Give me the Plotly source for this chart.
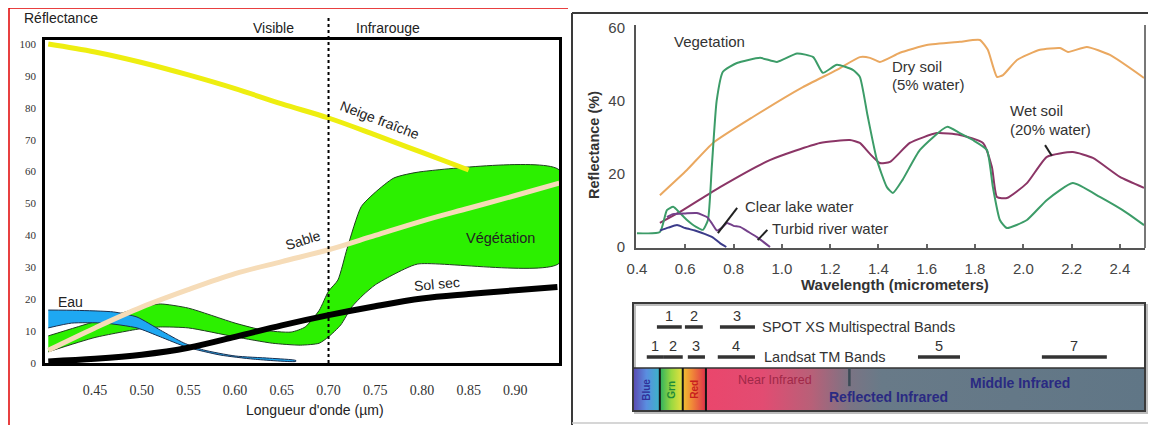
import plotly.graph_objects as go

# The page body adds an 8px margin; the figure is sized so that the
# reference pixel grid (1156x425) lines up with the photographed window.
OFF = 8
W, H = 1156 - OFF, 425 - OFF
SANS = "Liberation Sans, Arial, sans-serif"
SERIF = "Liberation Serif, Times New Roman, serif"


def px(x):
    return (x - OFF) / W


def py(y):
    return 1 - (y - OFF) / H


# ---------------- Left chart data (French) ----------------
neige_x = [0.40, 0.45, 0.50, 0.55, 0.60, 0.65, 0.70, 0.75, 0.80, 0.85]
neige_y = [100, 97.5, 94.2, 90.3, 86.0, 81.2, 76.8, 71.5, 66.0, 60.5]

sable_x = [0.40, 0.45, 0.50, 0.55, 0.60, 0.65, 0.70, 0.75, 0.80, 0.85, 0.90, 0.947]
sable_y = [4.0, 11.0, 17.5, 23.0, 28.0, 31.8, 35.5, 40.0, 44.5, 48.5, 52.5, 56.4]

solsec_x = [0.40, 0.45, 0.50, 0.55, 0.60, 0.65, 0.70, 0.75, 0.80, 0.85, 0.90, 0.945]
solsec_y = [0.5, 1.3, 2.6, 4.8, 8.2, 11.8, 15.0, 17.8, 20.2, 21.6, 22.8, 23.8]

veg_up_x = [0.40, 0.45, 0.50, 0.52, 0.55, 0.60, 0.63, 0.66, 0.675, 0.69, 0.70, 0.71,
            0.72, 0.735, 0.75, 0.77, 0.80, 0.947]
veg_up_y = [8.5, 13.0, 17.5, 18.5, 17.2, 12.5, 10.3, 9.7, 11.3, 16.5, 22.5, 26.0,
            36.0, 49.0, 53.5, 58.0, 60.0, 60.5]
veg_lo_x = [0.40, 0.45, 0.50, 0.52, 0.55, 0.60, 0.64, 0.67, 0.69, 0.70, 0.713, 0.725,
            0.737, 0.75, 0.77, 0.795, 0.947]
veg_lo_y = [3.5, 8.0, 10.8, 11.3, 11.0, 8.2, 6.2, 5.6, 6.2, 8.2, 11.9, 17.6,
            21.3, 24.5, 27.8, 31.0, 31.3]

eau_up_x = [0.40, 0.43, 0.47, 0.495, 0.52, 0.545, 0.566, 0.60, 0.637, 0.665]
eau_up_y = [16.6, 16.5, 16.0, 14.4, 10.3, 6.3, 4.1, 2.2, 1.5, 0.8]
eau_lo_x = [0.40, 0.425, 0.46, 0.495, 0.52, 0.548, 0.584, 0.62, 0.665]
eau_lo_y = [11.0, 12.5, 12.5, 11.0, 8.2, 5.0, 2.5, 1.2, 0.5]

left_xticks = [0.45, 0.50, 0.55, 0.60, 0.65, 0.70, 0.75, 0.80, 0.85, 0.90]
left_yticks = [0, 10, 20, 30, 40, 50, 60, 70, 80, 90, 100]

# ---------------- Right chart data (English) ----------------
veg_x = [0.40, 0.495, 0.524, 0.55, 0.578, 0.607, 0.645, 0.673, 0.694, 0.71, 0.73, 0.756,
         0.814, 0.91, 0.98, 1.063, 1.13, 1.17, 1.228, 1.294, 1.323, 1.355, 1.394, 1.435,
         1.46, 1.50, 1.572, 1.684, 1.737, 1.791, 1.849, 1.874, 1.903, 1.932, 2.015, 2.098,
         2.205, 2.317, 2.43, 2.5]
veg_y = [3.8, 4.1, 10.1, 11.0, 9.3, 7.4, 5.5, 4.7, 7.4, 22.0, 40.0, 48.0,
         50.4, 51.8, 50.7, 53.0, 52.0, 47.7, 49.9, 48.5, 46.6, 36.0, 23.8, 16.4,
         14.8, 18.4, 26.6, 32.9, 31.2, 29.3, 26.6, 16.4, 7.4, 5.2, 7.4, 12.9,
         17.5, 13.7, 9.3, 6.0]

dry_x = [0.495, 0.607, 0.715, 0.88, 1.087, 1.228, 1.323, 1.365, 1.406, 1.489, 1.60, 1.737,
         1.82, 1.853, 1.891, 1.916, 1.974, 2.069, 2.152, 2.185, 2.263, 2.359, 2.5]
dry_y = [14.2, 21.1, 28.5, 35.6, 43.8, 48.5, 52.0, 51.8, 50.7, 53.2, 55.3, 56.2,
         56.7, 54.0, 46.6, 47.1, 51.2, 54.0, 54.5, 53.4, 54.8, 52.6, 46.3]

wet_x = [0.495, 0.578, 0.744, 0.95, 1.158, 1.282, 1.323, 1.365, 1.406, 1.448, 1.53, 1.642,
         1.737, 1.833, 1.87, 1.891, 1.932, 2.015, 2.098, 2.205, 2.288, 2.40, 2.5]
wet_y = [6.6, 9.6, 16.4, 23.8, 28.5, 29.3, 28.5, 25.5, 23.0, 23.3, 28.5, 31.2,
         30.7, 28.5, 21.9, 13.7, 13.4, 17.5, 24.7, 26.0, 24.4, 19.2, 16.2]

clear_x = [0.495, 0.53, 0.566, 0.60, 0.64, 0.68, 0.715, 0.745, 0.77]
clear_y = [4.5, 5.3, 6.0, 5.2, 4.5, 3.6, 2.6, 1.0, 0.0]

turbid_x = [0.524, 0.549, 0.60, 0.648, 0.69, 0.71, 0.731, 0.75, 0.773, 0.80, 0.827, 0.86,
            0.897, 0.951]
turbid_y = [8.2, 9.0, 9.2, 9.3, 8.2, 6.5, 4.5, 5.2, 6.6, 5.8, 5.5, 4.2, 2.7, 0.0]

right_xticks = [0.4, 0.6, 0.8, 1.0, 1.2, 1.4, 1.6, 1.8, 2.0, 2.2, 2.4]
right_yticks = [0, 20, 40, 60]

# ---------------- Band diagram data ----------------
spot_bands = [("1", 0.483, 0.586), ("2", 0.599, 0.673), ("3", 0.744, 0.889)]
landsat_bands = [("1", 0.441, 0.512), ("2", 0.512, 0.590), ("3", 0.611, 0.682),
                 ("4", 0.735, 0.889), ("5", 1.564, 1.738), ("7", 2.077, 2.346)]
region_names = ["Blue", "Grn", "Red", "IR"]
region_edges = [0.384, 0.495, 0.590, 0.686, 2.504]

fig = go.Figure()

# ---- Left chart traces
fig.add_trace(go.Scatter(
    x=veg_up_x + veg_lo_x[::-1], y=veg_up_y + veg_lo_y[::-1],
    fill="toself", fillcolor="#2cf000", mode="lines",
    line=dict(color="#1e3e1e", width=1, shape="spline", smoothing=0.6),
    xaxis="x", yaxis="y", hoverinfo="skip"))
fig.add_trace(go.Scatter(
    x=eau_up_x + eau_lo_x[::-1], y=eau_up_y + eau_lo_y[::-1],
    fill="toself", fillcolor="#1ea8f2", mode="lines",
    line=dict(color="#1a3050", width=1, shape="spline", smoothing=0.6),
    xaxis="x", yaxis="y", hoverinfo="skip"))
fig.add_trace(go.Scatter(
    x=sable_x, y=sable_y, mode="lines",
    line=dict(color="#f6dcb8", width=5, shape="spline"),
    xaxis="x", yaxis="y", hoverinfo="skip"))
fig.add_trace(go.Scatter(
    x=solsec_x, y=solsec_y, mode="lines",
    line=dict(color="#000000", width=6, shape="spline"),
    xaxis="x", yaxis="y", hoverinfo="skip"))
fig.add_trace(go.Scatter(
    x=neige_x, y=neige_y, mode="lines",
    line=dict(color="#eeee10", width=5, shape="spline"),
    xaxis="x", yaxis="y", hoverinfo="skip"))

# ---- Right chart traces
right_series = [
    (dry_x, dry_y, "#eaa860"),
    (wet_x, wet_y, "#8b3566"),
    (veg_x, veg_y, "#3c9c68"),
    (clear_x, clear_y, "#3b3b8a"),
    (turbid_x, turbid_y, "#74408a"),
]
for xs, ys, col in right_series:
    fig.add_trace(go.Scatter(
        x=xs, y=ys, mode="lines",
        line=dict(color=col, width=2, shape="spline", smoothing=0.5),
        xaxis="x2", yaxis="y2", hoverinfo="skip"))

# pointer lines (right chart)
pointers = [((0.735, 3.8), (0.815, 10.7)), ((0.90, 1.9), (0.94, 4.7)),
            ((2.09, 27.9), (2.118, 25.0))]
for (x0, y0), (x1, y1) in pointers:
    fig.add_trace(go.Scatter(
        x=[x0, x1], y=[y0, y1], mode="lines",
        line=dict(color="#222222", width=2),
        xaxis="x2", yaxis="y2", hoverinfo="skip"))

# ---- Band diagram: colored spectrum bar
BAR_TOP = 0.398
gradients = [
    [[0, "#5a48b0"], [0.5, "#5a8ee0"], [1, "#3cb4c8"]],
    [[0, "#2cb060"], [0.5, "#9ad840"], [1, "#e8e040"]],
    [[0, "#f0c030"], [0.4, "#f08838"], [1, "#e0304a"]],
    [[0, "#ea466c"], [0.13, "#e24c72"], [0.24, "#b86078"], [0.33, "#7a7484"],
     [0.40, "#687a88"], [1, "#607686"]],
]
for i in range(4):
    x0, x1 = region_edges[i], region_edges[i + 1]
    fig.add_trace(go.Scatter(
        x=[x0, x1, x1, x0, x0], y=[0, 0, BAR_TOP, BAR_TOP, 0],
        fill="toself", mode="lines", line=dict(width=0),
        fillgradient=dict(type="horizontal", colorscale=gradients[i]),
        xaxis="x3", yaxis="y3", hoverinfo="skip"))

# band segments
for rows, yv in ((spot_bands, 0.778), (landsat_bands, 0.50)):
    for lab, a, b in rows:
        fig.add_trace(go.Scatter(
            x=[a, b], y=[yv, yv], mode="lines",
            line=dict(color="#333333", width=3.5),
            xaxis="x3", yaxis="y3", hoverinfo="skip"))

shapes = []
# left panel red frame (top + left)
shapes.append(dict(type="line", xref="paper", yref="paper", x0=px(9), x1=px(568),
                   y0=py(8), y1=py(8), line=dict(color="#e00000", width=1.5)))
shapes.append(dict(type="line", xref="paper", yref="paper", x0=px(9), x1=px(9),
                   y0=py(8), y1=py(425), line=dict(color="#e00000", width=1.5)))
# right panel frame
shapes.append(dict(type="line", xref="paper", yref="paper", x0=px(572), x1=px(1156),
                   y0=py(13), y1=py(13), line=dict(color="#3a3a3a", width=2)))
shapes.append(dict(type="line", xref="paper", yref="paper", x0=px(572), x1=px(572),
                   y0=py(13), y1=py(425), line=dict(color="#3a3a3a", width=2)))
shapes.append(dict(type="line", xref="paper", yref="paper", x0=px(572), x1=px(1156),
                   y0=py(423), y1=py(423), line=dict(color="#c8c8c8", width=1.5)))
# dotted visible/infrared divider
shapes.append(dict(type="line", xref="x", yref="paper", x0=0.70, x1=0.70,
                   y0=py(363), y1=py(15), line=dict(color="black", width=2, dash="dot")))
# right chart right-hand axis line
shapes.append(dict(type="line", xref="paper", yref="paper", x0=px(1145), x1=px(1145),
                   y0=py(25), y1=py(248), line=dict(color="#777777", width=2)))
# band diagram box
shapes.append(dict(type="rect", xref="paper", yref="paper", x0=px(635), x1=px(1147),
                   y0=py(413), y1=py(305), line=dict(color="#bdbdbd", width=2), layer="below"))
shapes.append(dict(type="rect", xref="paper", yref="paper", x0=px(633), x1=px(1145),
                   y0=py(411), y1=py(303), line=dict(color="#3a3a3a", width=2), layer="above"))
# bar top edge and region separators
shapes.append(dict(type="line", xref="x3", yref="y3", x0=region_edges[0], x1=region_edges[-1],
                   y0=BAR_TOP, y1=BAR_TOP, line=dict(color="#333333", width=1.5)))
for e in region_edges[1:4]:
    shapes.append(dict(type="line", xref="x3", yref="y3", x0=e, x1=e, y0=0, y1=BAR_TOP,
                       line=dict(color="#151515", width=2)))
shapes.append(dict(type="line", xref="x3", yref="y3", x0=1.28, x1=1.28, y0=0.23, y1=BAR_TOP,
                   line=dict(color="#3a4a55", width=2.5)))

ann = []


def A(text, x, y, xref="paper", yref="paper", size=13, color="#222222", family=SANS,
      angle=0, xanchor="center", yanchor="middle", bold=False):
    if bold:
        text = "<b>" + text + "</b>"
    ann.append(dict(text=text, x=x, y=y, xref=xref, yref=yref, showarrow=False,
                    font=dict(size=size, color=color, family=family), textangle=angle,
                    xanchor=xanchor, yanchor=yanchor))


# left chart texts
A("Réflectance", px(61), py(18), size=14)
A("Visible", px(273), py(28), size=14)
A("Infrarouge", px(388), py(28), size=14)
A("Longueur d'onde (µm)", px(315), py(410), size=14)
A("Neige fraîche", 0.755, 76.2, "x", "y", size=14, angle=21)
A("Sable", 0.673, 38.6, "x", "y", size=14, angle=-17)
A("Végétation", 0.884, 39.2, "x", "y", size=14.5)
A("Sol sec", 0.816, 24.8, "x", "y", size=14, angle=-5)
A("Eau", 0.424, 19.1, "x", "y", size=14)

# right chart texts
RC = "#333333"
A("Vegetation", 0.545, 56.2, "x2", "y2", size=15, color=RC, xanchor="left")
A("Dry soil", 1.448, 49.3, "x2", "y2", size=15, color=RC, xanchor="left")
A("(5% water)", 1.448, 44.4, "x2", "y2", size=15, color=RC, xanchor="left")
A("Wet soil", 1.936, 37.3, "x2", "y2", size=15, color=RC, xanchor="left")
A("(20% water)", 1.936, 32.3, "x2", "y2", size=15, color=RC, xanchor="left")
A("Clear lake water", 0.839, 11.0, "x2", "y2", size=15, color=RC, xanchor="left")
A("Turbid river water", 0.951, 5.2, "x2", "y2", size=15, color=RC, xanchor="left")
A("Reflectance (%)", px(594), py(145), size=14.5, color=RC, angle=-90, bold=True)
A("Wavelength (micrometers)", px(895), py(284), size=15, color=RC, bold=True)

# band diagram texts
for lab, a, b in spot_bands:
    A(lab, (a + b) / 2, 0.88, "x3", "y3", size=14.5, color=RC)
for lab, a, b in landsat_bands:
    A(lab, (a + b) / 2, 0.60, "x3", "y3", size=14.5, color=RC)
A("SPOT XS Multispectral Bands", 0.909, 0.778, "x3", "y3", size=14.5, color=RC, xanchor="left")
A("Landsat TM Bands", 0.918, 0.50, "x3", "y3", size=14.5, color=RC, xanchor="left")
name_cols = ["#30309a", "#1f8a3a", "#c81e1e"]
for i in range(3):
    A(region_names[i], (region_edges[i] + region_edges[i + 1]) / 2, 0.2, "x3", "y3",
      size=10, color=name_cols[i], angle=-90, bold=True)
A("Near Infrared", 0.971, 0.29, "x3", "y3", size=12.5, color="#a02848")
A("Reflected Infrared", 1.44, 0.13, "x3", "y3", size=14, color="#2a2a82", bold=True)
A("Middle Infrared", 1.986, 0.26, "x3", "y3", size=14, color="#2a2a82", bold=True)

fig.update_layout(
    width=W, height=H, margin=dict(l=0, r=0, t=0, b=0, pad=0, autoexpand=False),
    paper_bgcolor="white", plot_bgcolor="rgba(0,0,0,0)", showlegend=False,
    shapes=shapes, annotations=ann,
    xaxis=dict(domain=[px(45), px(559)], range=[0.3965, 0.9467], anchor="y",
               tickvals=left_xticks, ticktext=[f"{v:.2f}" for v in left_xticks],
               tickfont=dict(family=SERIF, size=14, color="#333333"),
               showline=True, linecolor="black", linewidth=2.5, mirror=True,
               ticks="", showgrid=False, zeroline=False, ticklabelstandoff=12,
               automargin=False),
    yaxis=dict(domain=[py(363), py(40)], range=[0, 101.25], anchor="x",
               tickvals=left_yticks, ticktext=[str(v) for v in left_yticks],
               tickfont=dict(family=SERIF, size=11, color="#333333"),
               showline=True, linecolor="black", linewidth=2.5, mirror=True,
               ticks="", showgrid=False, zeroline=False, ticklabelstandoff=4,
               automargin=False),
    xaxis2=dict(domain=[px(636), px(1145)], range=[0.396, 2.504], anchor="y2",
                tickvals=right_xticks, ticktext=[f"{v:.1f}" for v in right_xticks],
                tickfont=dict(family=SANS, size=15, color="#444444"),
                showline=True, linecolor="#555555", linewidth=2,
                ticks="inside", ticklen=4, tickcolor="#666666", tickwidth=1.5,
                showgrid=False, zeroline=False, ticklabelstandoff=6, automargin=False),
    yaxis2=dict(domain=[py(248), py(25)], range=[-0.27, 60.8], anchor="x2",
                tickvals=right_yticks, ticktext=[str(v) for v in right_yticks],
                tickfont=dict(family=SANS, size=15, color="#444444"),
                showline=True, linecolor="#555555", linewidth=2,
                ticks="", showgrid=False, zeroline=False, ticklabelstandoff=6,
                automargin=False),
    xaxis3=dict(domain=[px(633), px(1145)], range=[0.384, 2.504], anchor="y3",
                visible=False, automargin=False),
    yaxis3=dict(domain=[py(411), py(303)], range=[0, 1], anchor="x3", visible=False,
                automargin=False),
)

fig.write_html("out.html")
